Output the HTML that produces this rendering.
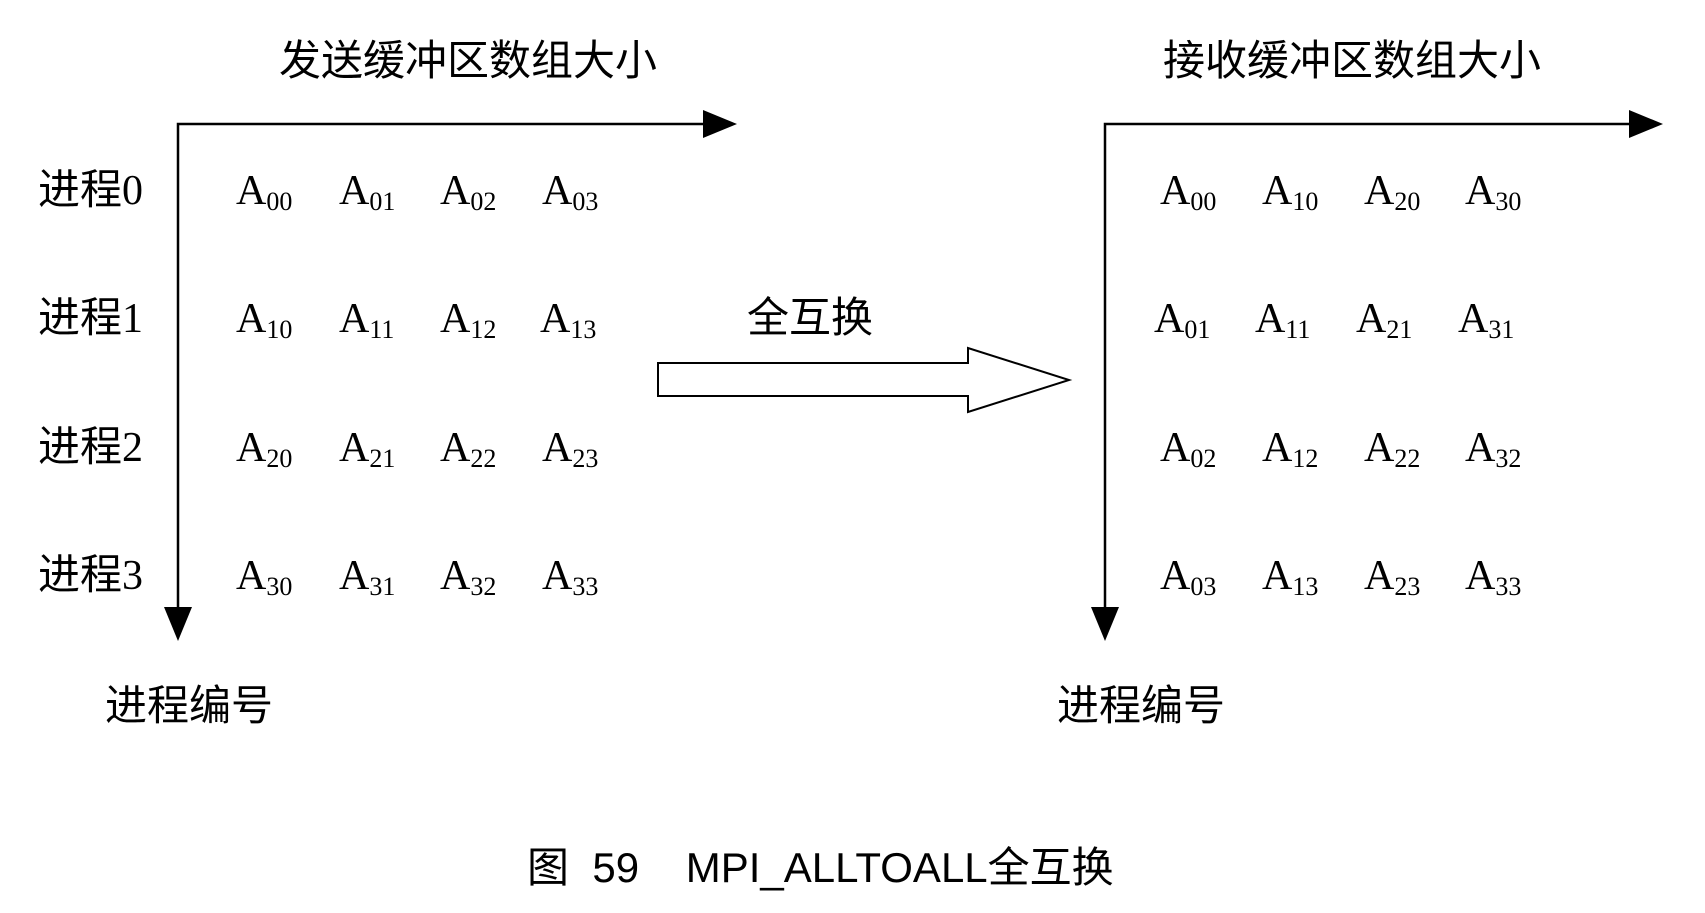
<!DOCTYPE html>
<html><head><meta charset="utf-8"><style>
html,body{margin:0;padding:0;background:#fff;width:1705px;height:913px;overflow:hidden}
.c{font-family:"Liberation Sans","Noto Sans CJK SC",sans-serif;font-size:42px;fill:#000}
.d{font-family:"Liberation Serif",serif}
.a{font-family:"Liberation Serif",serif;font-size:42px;fill:#000}
.s{font-size:26px}
</style></head><body>
<svg width="1705" height="913" xmlns="http://www.w3.org/2000/svg">
<g stroke="#000" stroke-width="2.5" fill="none">
<polyline points="704,124 178,124 178,608"/>
<polyline points="1630,124 1105,124 1105,608"/>
</g>
<polygon points="703,110 737,124 703,138" fill="#000"/>
<polygon points="1629,110 1663,124 1629,138" fill="#000"/>
<polygon points="164,607 192,607 178,641" fill="#000"/>
<polygon points="1091,607 1119,607 1105,641" fill="#000"/>
<polygon points="658,363 968,363 968,348 1069,380 968,412 968,396 658,396" fill="#fff" stroke="#000" stroke-width="2"/>
<text class="c" x="279" y="75">发送缓冲区数组大小</text>
<text class="c" x="1163" y="75">接收缓冲区数组大小</text>
<text class="c" x="38" y="204">进程<tspan class="d">0</tspan></text>
<text class="c" x="38" y="332">进程<tspan class="d">1</tspan></text>
<text class="c" x="38" y="461">进程<tspan class="d">2</tspan></text>
<text class="c" x="38" y="589">进程<tspan class="d">3</tspan></text>
<text class="c" x="747" y="332">全互换</text>
<text class="c" x="105" y="720">进程编号</text>
<text class="c" x="1057" y="720">进程编号</text>
<text class="c" x="527" y="882">图&#160;&#160;59&#160;&#160;&#160;&#160;MPI_ALLTOALL全互换</text>
<g class="a">
<text x="236" y="204">A<tspan class="s" dy="6">00</tspan></text><text x="339" y="204">A<tspan class="s" dy="6">01</tspan></text><text x="440" y="204">A<tspan class="s" dy="6">02</tspan></text><text x="542" y="204">A<tspan class="s" dy="6">03</tspan></text>
<text x="236" y="332">A<tspan class="s" dy="6">10</tspan></text><text x="339" y="332">A<tspan class="s" dy="6">11</tspan></text><text x="440" y="332">A<tspan class="s" dy="6">12</tspan></text><text x="540" y="332">A<tspan class="s" dy="6">13</tspan></text>
<text x="236" y="461">A<tspan class="s" dy="6">20</tspan></text><text x="339" y="461">A<tspan class="s" dy="6">21</tspan></text><text x="440" y="461">A<tspan class="s" dy="6">22</tspan></text><text x="542" y="461">A<tspan class="s" dy="6">23</tspan></text>
<text x="236" y="589">A<tspan class="s" dy="6">30</tspan></text><text x="339" y="589">A<tspan class="s" dy="6">31</tspan></text><text x="440" y="589">A<tspan class="s" dy="6">32</tspan></text><text x="542" y="589">A<tspan class="s" dy="6">33</tspan></text>
<text x="1160" y="204">A<tspan class="s" dy="6">00</tspan></text><text x="1262" y="204">A<tspan class="s" dy="6">10</tspan></text><text x="1364" y="204">A<tspan class="s" dy="6">20</tspan></text><text x="1465" y="204">A<tspan class="s" dy="6">30</tspan></text>
<text x="1154" y="332">A<tspan class="s" dy="6">01</tspan></text><text x="1255" y="332">A<tspan class="s" dy="6">11</tspan></text><text x="1356" y="332">A<tspan class="s" dy="6">21</tspan></text><text x="1458" y="332">A<tspan class="s" dy="6">31</tspan></text>
<text x="1160" y="461">A<tspan class="s" dy="6">02</tspan></text><text x="1262" y="461">A<tspan class="s" dy="6">12</tspan></text><text x="1364" y="461">A<tspan class="s" dy="6">22</tspan></text><text x="1465" y="461">A<tspan class="s" dy="6">32</tspan></text>
<text x="1160" y="589">A<tspan class="s" dy="6">03</tspan></text><text x="1262" y="589">A<tspan class="s" dy="6">13</tspan></text><text x="1364" y="589">A<tspan class="s" dy="6">23</tspan></text><text x="1465" y="589">A<tspan class="s" dy="6">33</tspan></text>
</g>
</svg>
</body></html>
